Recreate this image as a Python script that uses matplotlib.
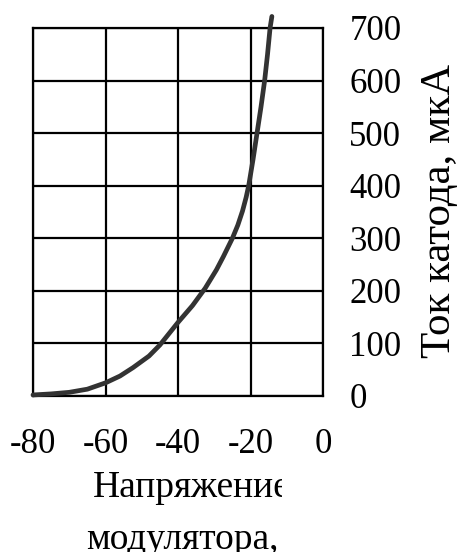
import matplotlib.pyplot as plt
from matplotlib.transforms import Bbox

plt.rcParams['font.family'] = ['Liberation Serif', 'DejaVu Serif']
plt.rcParams['axes.unicode_minus'] = False

# modulator voltage, V  /  cathode current, uA
u_mod = [-80, -75, -70, -65, -60, -56, -52.4, -48, -45, -40, -36, -32.5, -29.4,
         -27.5, -25, -23.5, -22.2, -21.2, -20.5, -19.3, -18.2, -17.1, -16.1, -15.3,
         -14.6, -14.1]
i_cat = [2, 4, 7, 13, 25, 38, 54, 76, 97, 140, 172, 205, 240,
         265, 300, 325, 352, 378, 400, 450, 500, 550, 600, 650,
         700, 722]

x_ticks = [-80, -60, -40, -20, 0]
y_ticks = [0, 100, 200, 300, 400, 500, 600, 700]

fig = plt.figure(figsize=(4.61, 5.52), dpi=100)
ax = fig.add_axes([33/461, 1 - 396/552, 290/461, 368/552])

ax.plot(u_mod, i_cat, color='#333333', lw=3.4, solid_capstyle='round',
        solid_joinstyle='round', clip_on=False, zorder=3)

ax.set_xlim(-80, 0)
ax.set_ylim(0, 700)
ax.set_xticks(x_ticks)
ax.set_yticks(y_ticks)
ax.grid(True, color='black', lw=1.6)
for s in ax.spines.values():
    s.set_linewidth(1.6)
ax.yaxis.tick_right()
ax.tick_params(axis='y', length=0, pad=19, labelsize=25)
ax.tick_params(axis='x', length=0, pad=23, labelsize=25)
for lab in ax.get_yticklabels():
    lab.set_horizontalalignment('left')

fig.text(440/461, 1 - 211/552, 'Ток катода, мкА', rotation=90,
         ha='center', va='center', fontsize=31)

# first line of x label is cut off on the right, as in the original
t1 = fig.text(93/461, 1 - 497/552, 'Напряжение', ha='left', va='baseline', fontsize=27)
t1.set_clip_box(Bbox([[0, 0], [282, 552]]))
t1.set_clip_on(True)
fig.text(182/461, 1 - 549/552, 'модулятора,', ha='center', va='baseline', fontsize=27)

fig.savefig('out.png', dpi=100)
